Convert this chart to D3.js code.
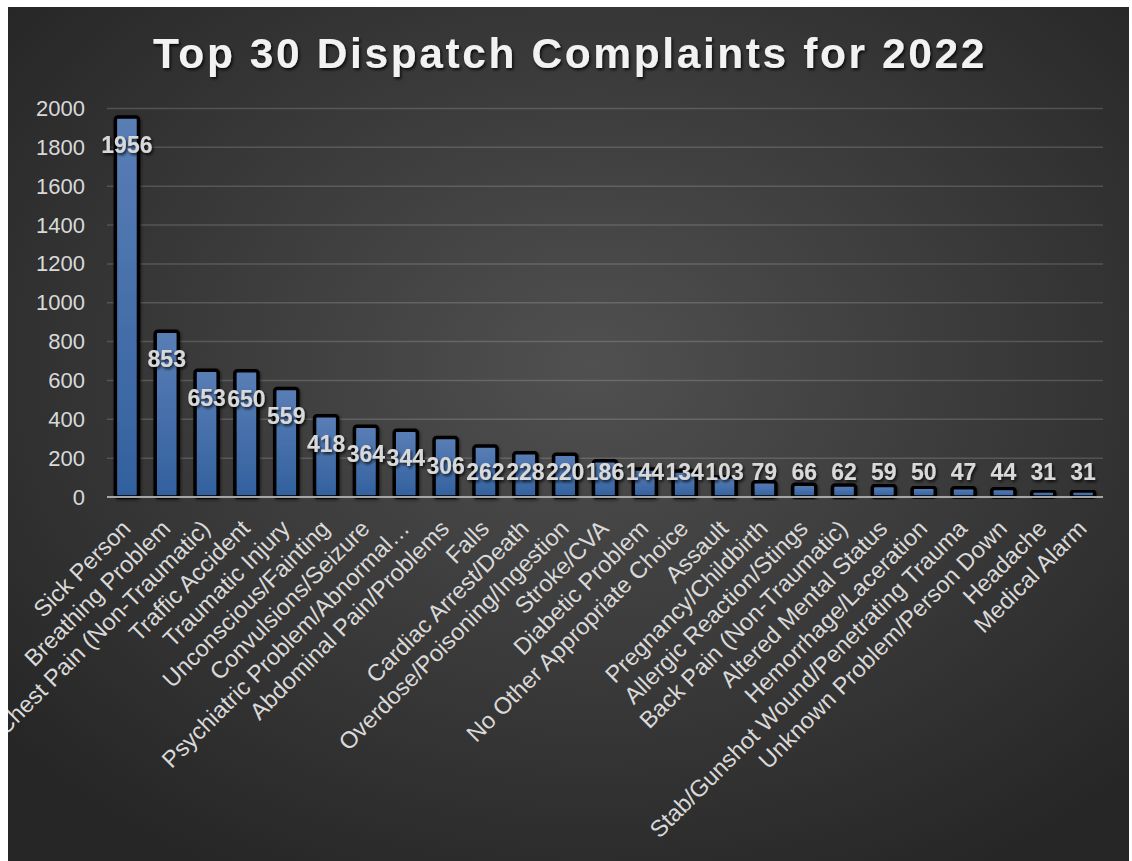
<!DOCTYPE html>
<html>
<head>
<meta charset="utf-8">
<script src="https://cdn.jsdelivr.net/npm/d3@7"></script>
<style>
  html, body { margin: 0; padding: 0; background: #ffffff; }
  svg { display: block; }
</style>
</head>
<body>
<div id="chart"></div>
<script>
// Dispatch complaint categories and their 2022 counts
const categories = [
  "Sick Person", "Breathing Problem", "Chest Pain (Non-Traumatic)", "Traffic Accident",
  "Traumatic Injury", "Unconscious/Fainting", "Convulsions/Seizure",
  "Psychiatric Problem/Abnormal…", "Abdominal Pain/Problems", "Falls",
  "Cardiac Arrest/Death", "Overdose/Poisoning/Ingestion", "Stroke/CVA",
  "Diabetic Problem", "No Other Appropriate Choice", "Assault",
  "Pregnancy/Childbirth", "Allergic Reaction/Stings", "Back Pain (Non-Traumatic)",
  "Altered Mental Status", "Hemorrhage/Laceration",
  "Stab/Gunshot Wound/Penetrating Trauma", "Unknown Problem/Person Down",
  "Headache", "Medical Alarm"
];
const counts = [1956, 853, 653, 650, 559, 418, 364, 344, 306, 262, 228, 220, 186,
  144, 134, 103, 79, 66, 62, 59, 50, 47, 44, 31, 31];
const yTicks = [0, 200, 400, 600, 800, 1000, 1200, 1400, 1600, 1800, 2000];
const title = "Top 30 Dispatch Complaints for 2022";

const W = 1132, H = 861;
const frame = { x: 8, y: 7, w: 1121, h: 854 };
const plot = { left: 107, right: 1103, top: 108.5, bottom: 497 };

const svg = d3.select("#chart").append("svg")
  .attr("width", W).attr("height", H);

const defs = svg.append("defs");

defs.append("clipPath").attr("id", "frameClip")
  .append("rect")
  .attr("x", frame.x).attr("y", frame.y)
  .attr("width", frame.w).attr("height", frame.h);

const bg = defs.append("radialGradient").attr("id", "bgGrad")
  .attr("cx", "52%").attr("cy", "42%").attr("r", "68%");
bg.append("stop").attr("offset", "0%").attr("stop-color", "#505050");
bg.append("stop").attr("offset", "100%").attr("stop-color", "#262626");

const barGrad = defs.append("linearGradient").attr("id", "barGrad")
  .attr("x1", 0).attr("y1", 0).attr("x2", 0).attr("y2", 1);
barGrad.append("stop").attr("offset", "0%").attr("stop-color", "#5a7eb6");
barGrad.append("stop").attr("offset", "100%").attr("stop-color", "#32619e");

const shadow = defs.append("filter").attr("id", "textShadow")
  .attr("x", "-10%").attr("y", "-30%").attr("width", "130%").attr("height", "170%");
shadow.append("feDropShadow").attr("dx", 1.5).attr("dy", 2)
  .attr("stdDeviation", 1.6).attr("flood-color", "#000").attr("flood-opacity", 0.8);

const barShadow = defs.append("filter").attr("id", "barShadow")
  .attr("x", "-30%").attr("y", "-10%").attr("width", "160%").attr("height", "130%");
barShadow.append("feDropShadow").attr("dx", 1).attr("dy", 1.5)
  .attr("stdDeviation", 1.5).attr("flood-color", "#000").attr("flood-opacity", 0.5);

const root = svg.append("g").attr("clip-path", "url(#frameClip)");

// Background panel
root.append("rect")
  .attr("x", frame.x).attr("y", frame.y)
  .attr("width", frame.w).attr("height", frame.h)
  .attr("fill", "url(#bgGrad)");

// Scales
const x = d3.scaleBand().domain(categories)
  .range([plot.left, plot.right]).paddingInner(0.42).paddingOuter(0.21);
const y = d3.scaleLinear().domain([0, 2000]).range([plot.bottom, plot.top]);

// Gridlines
root.append("g").selectAll("line")
  .data(yTicks.filter(d => d > 0))
  .join("line")
  .attr("x1", plot.left).attr("x2", plot.right)
  .attr("y1", d => y(d)).attr("y2", d => y(d))
  .attr("stroke", "#ffffff").attr("stroke-opacity", 0.16).attr("stroke-width", 1.5);

// Y axis labels
const yAxis = root.append("g")
  .attr("transform", `translate(${plot.left - 8},0)`)
  .call(d3.axisLeft(y).tickValues(yTicks).tickFormat(d3.format("d"))
    .tickSize(0).tickPadding(14));
yAxis.select(".domain").remove();
yAxis.selectAll("text")
  .attr("fill", "#d9d9d9")
  .style("font-family", "'Liberation Sans', Arial, sans-serif")
  .style("font-size", "22px");

// Bars
root.append("g").selectAll("rect")
  .data(categories)
  .join("rect")
  .attr("x", d => x(d))
  .attr("y", (d, i) => y(counts[i]))
  .attr("width", x.bandwidth())
  .attr("height", (d, i) => y(0) - y(counts[i]))
  .attr("rx", 2.5)
  .attr("fill", "url(#barGrad)")
  .attr("stroke", "#000000")
  .attr("stroke-width", 3.5)
  .attr("filter", "url(#barShadow)");

// Baseline
root.append("line")
  .attr("x1", plot.left).attr("x2", plot.right)
  .attr("y1", y(0)).attr("y2", y(0))
  .attr("stroke", "#a6a6a6").attr("stroke-width", 2);

// X axis category labels, rotated
const xAxis = root.append("g")
  .attr("transform", `translate(0,${plot.bottom})`)
  .call(d3.axisBottom(x).tickSize(0).tickPadding(0));
xAxis.select(".domain").remove();
xAxis.selectAll("text")
  .attr("fill", "#d9d9d9")
  .style("font-family", "'Liberation Sans', Arial, sans-serif")
  .style("font-size", "23.5px")
  .attr("text-anchor", "end")
  .attr("dy", null)
  .attr("y", 0)
  .attr("transform", "translate(5,33) rotate(-45)");

// Value labels
root.append("g").selectAll("text")
  .data(categories)
  .join("text")
  .attr("x", d => x(d) + x.bandwidth() / 2)
  .attr("y", (d, i) => Math.min(y(counts[i]) + 36, plot.bottom - 17))
  .attr("text-anchor", "middle")
  .attr("fill", "#d9d9d9")
  .attr("filter", "url(#textShadow)")
  .style("font-family", "'Liberation Sans', Arial, sans-serif")
  .style("font-weight", "bold")
  .style("font-size", "23px")
  .text((d, i) => counts[i]);

// Title
root.append("text")
  .attr("x", 570).attr("y", 68)
  .attr("text-anchor", "middle")
  .attr("fill", "#f2f2f2")
  .attr("filter", "url(#textShadow)")
  .style("font-family", "'Liberation Sans', Arial, sans-serif")
  .style("font-weight", "bold")
  .style("font-size", "42.5px")
  .style("letter-spacing", "2.6px")
  .text(title);
</script>
</body>
</html>
